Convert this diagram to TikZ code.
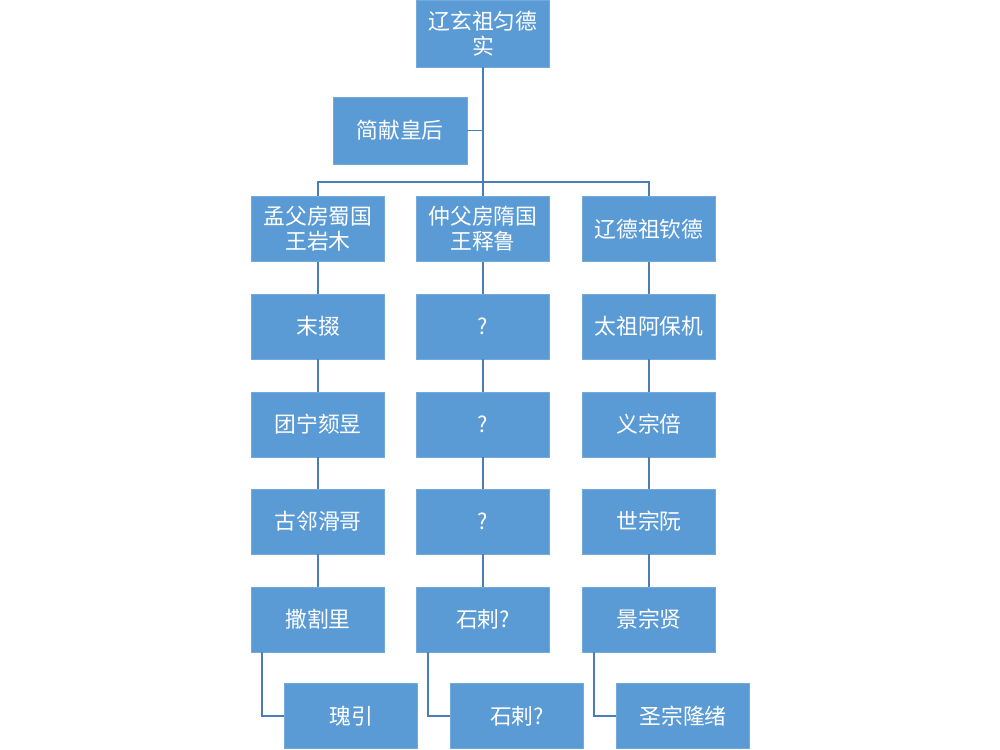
\documentclass[tikz,border=0pt]{standalone}
\usepackage{fontspec}
\newfontfamily\cjk{Noto Sans CJK SC}
\begin{document}
\begin{tikzpicture}[x=0.025cm,y=-0.025cm,
 bx/.style={fill=boxc,draw=boxc!85!white,line width=0.6pt,minimum width=133*0.025cm,minimum height=65*0.025cm,text=white,font=\cjk\fontsize{15.5}{18}\selectfont,align=center,inner sep=0pt},
 ln/.style={draw=linec,line width=1.3pt}]
\definecolor{boxc}{HTML}{5B9BD5}
\definecolor{linec}{HTML}{4A7EBB}
\useasboundingbox[fill=white] (0,0) rectangle (1000,750);
\node[bx,minimum height=67*0.025cm] (top) at (483,33.5) {辽玄祖匀德\\实};
\node[bx,minimum width=134*0.025cm,minimum height=67*0.025cm] (hou) at (400,130.5) {简献皇后};
\foreach \n/\x in {a/318,b/483,c/649}{
 \foreach \r/\y in {1/229,2/326.5,3/424.5,4/521.5,5/619.5}{
  \coordinate (\n\r) at (\x,\y);}}
\node[bx] (a1n) at (a1) {孟父房蜀国\\王岩木};
\node[bx] (b1n) at (b1) {仲父房隋国\\王释鲁};
\node[bx] (c1n) at (c1) {辽德祖钦德};
\node[bx] (a2n) at (a2) {末掇};
\node[bx] (b2n) at (b2) {?};
\node[bx] (c2n) at (c2) {太祖阿保机};
\node[bx] (a3n) at (a3) {团宁颏昱};
\node[bx] (b3n) at (b3) {?};
\node[bx] (c3n) at (c3) {义宗倍};
\node[bx] (a4n) at (a4) {古邻滑哥};
\node[bx] (b4n) at (b4) {?};
\node[bx] (c4n) at (c4) {世宗阮};
\node[bx] (a5n) at (a5) {撒割里};
\node[bx] (b5n) at (b5) {石剌?};
\node[bx] (c5n) at (c5) {景宗贤};
\node[bx] (a6n) at (351,716) {瑰引};
\node[bx] (b6n) at (517,716) {石剌?};
\node[bx] (c6n) at (683,716) {圣宗隆绪};
\coordinate (j) at (483,182);
\draw[ln] (top.south) -- (j);
\draw[ln] (hou.east) -- (483,130.5);
\draw[ln] (a1n.north) |- (j) -| (c1n.north);
\draw[ln] (j) -- (b1n.north);
\foreach \n in {a,b,c}{
 \draw[ln] (\n1n) -- (\n2n); \draw[ln] (\n2n) -- (\n3n);
 \draw[ln] (\n3n) -- (\n4n); \draw[ln] (\n4n) -- (\n5n);}
\draw[ln] ([xshift=-56*0.025cm]a5n.south) |- (a6n.west);
\draw[ln] ([xshift=-55*0.025cm]b5n.south) |- (b6n.west);
\draw[ln] ([xshift=-55*0.025cm]c5n.south) |- (c6n.west);
\end{tikzpicture}
\end{document}
